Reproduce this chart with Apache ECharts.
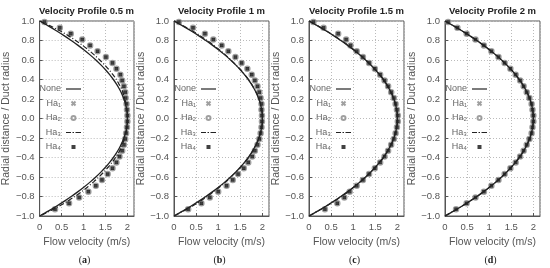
<!DOCTYPE html>
<html>
<head>
<meta charset="utf-8">
<script src="https://cdn.jsdelivr.net/npm/echarts@6/dist/echarts.min.js"></script>
<style>
  html, body { margin: 0; padding: 0; background: #fff; }
  #chart { width: 550px; height: 268px; }
</style>
</head>
<body>
<div id="chart"></div>
<script>
// panel titles and tags
const panelTitles = ['Velocity Profile 0.5 m', 'Velocity Profile 1 m', 'Velocity Profile 1.5 m', 'Velocity Profile 2 m'];
const panelTags = ['a', 'b', 'c', 'd'];
const seriesNames = ['None', 'Ha₁', 'Ha₂', 'Ha₃', 'Ha₄'];
const xTicks = [0, 0.5, 1, 1.5, 2];

// radial positions for the continuous curves
const lineR = [1.0, 0.95, 0.9, 0.85, 0.8, 0.75, 0.7, 0.65, 0.6, 0.55, 0.5, 0.45, 0.4, 0.35, 0.3, 0.25, 0.2, 0.15, 0.1, 0.05, 0,
  -0.05, -0.1, -0.15, -0.2, -0.25, -0.3, -0.35, -0.4, -0.45, -0.5, -0.55, -0.6, -0.65, -0.7, -0.75, -0.8, -0.85, -0.9, -0.95, -1.0];

// "None" curve (same in every panel)
const noneVel = [0, 0.195, 0.38, 0.555, 0.72, 0.875, 1.02, 1.155, 1.28, 1.395, 1.5, 1.595, 1.68, 1.755, 1.82, 1.875, 1.92, 1.955, 1.98, 1.995, 2.0,
  1.995, 1.98, 1.955, 1.92, 1.875, 1.82, 1.755, 1.68, 1.595, 1.5, 1.395, 1.28, 1.155, 1.02, 0.875, 0.72, 0.555, 0.38, 0.195, 0];

// Ha3 dash-dot curve per panel
const ha3A = [0, 0.24, 0.46, 0.65, 0.82, 0.98, 1.12, 1.25, 1.37, 1.48, 1.58, 1.67, 1.75, 1.81, 1.87, 1.91, 1.94, 1.97, 1.99, 2.0, 2.0,
  2.0, 1.99, 1.97, 1.94, 1.90, 1.86, 1.80, 1.73, 1.65, 1.56, 1.46, 1.35, 1.23, 1.10, 0.96, 0.80, 0.63, 0.44, 0.23, 0];
const ha3B = [0, 0.21, 0.41, 0.59, 0.75, 0.90, 1.04, 1.17, 1.29, 1.40, 1.51, 1.60, 1.69, 1.76, 1.82, 1.88, 1.92, 1.96, 1.98, 2.0, 2.0,
  2.0, 1.98, 1.96, 1.92, 1.88, 1.82, 1.76, 1.69, 1.60, 1.51, 1.40, 1.29, 1.17, 1.04, 0.90, 0.75, 0.59, 0.41, 0.21, 0];
const ha3C = [0, 0.20, 0.39, 0.57, 0.73, 0.89, 1.03, 1.16, 1.29, 1.40, 1.51, 1.60, 1.69, 1.76, 1.82, 1.88, 1.92, 1.96, 1.98, 2.0, 2.0,
  2.0, 1.98, 1.96, 1.92, 1.88, 1.82, 1.76, 1.69, 1.60, 1.51, 1.40, 1.29, 1.16, 1.03, 0.89, 0.73, 0.57, 0.39, 0.20, 0];
const ha3D = [0, 0.195, 0.38, 0.555, 0.72, 0.875, 1.02, 1.155, 1.28, 1.395, 1.5, 1.595, 1.68, 1.755, 1.82, 1.875, 1.92, 1.955, 1.98, 1.995, 2.0,
  1.995, 1.98, 1.955, 1.92, 1.875, 1.82, 1.755, 1.68, 1.595, 1.5, 1.395, 1.28, 1.155, 1.02, 0.875, 0.72, 0.555, 0.38, 0.195, 0];

// radial positions of the markers
const markerR = [0.99, 0.93, 0.87, 0.81, 0.75, 0.69, 0.63, 0.57, 0.51, 0.45, 0.39, 0.33, 0.27, 0.21, 0.15, 0.09, 0.03,
  -0.03, -0.09, -0.15, -0.21, -0.27, -0.33, -0.39, -0.45, -0.51, -0.57, -0.63, -0.69, -0.75, -0.81, -0.87, -0.93];

// Ha1 / Ha2 / Ha4 markers (they sit on top of each other)
const haA = [0.11, 0.46, 0.71, 0.97, 1.15, 1.32, 1.51, 1.66, 1.75, 1.84, 1.88, 1.92, 1.95, 1.96, 1.98, 1.99, 2.00,
  2.00, 1.99, 1.97, 1.95, 1.92, 1.88, 1.82, 1.75, 1.66, 1.55, 1.42, 1.28, 1.11, 0.90, 0.67, 0.35];
const haB = [0.11, 0.43, 0.70, 0.89, 1.08, 1.23, 1.39, 1.53, 1.66, 1.76, 1.83, 1.89, 1.93, 1.96, 1.98, 1.98, 1.99,
  1.99, 1.98, 1.96, 1.93, 1.89, 1.83, 1.77, 1.68, 1.58, 1.45, 1.33, 1.19, 1.00, 0.81, 0.62, 0.32];
const haC = [0.10, 0.33, 0.66, 0.84, 0.94, 1.08, 1.22, 1.36, 1.49, 1.61, 1.71, 1.79, 1.86, 1.92, 1.96, 1.99, 2.01,
  2.01, 1.99, 1.96, 1.92, 1.86, 1.79, 1.71, 1.61, 1.49, 1.36, 1.22, 1.08, 0.92, 0.80, 0.64, 0.36];
const haD = [0.07, 0.28, 0.49, 0.69, 0.88, 1.05, 1.21, 1.35, 1.48, 1.60, 1.70, 1.78, 1.85, 1.91, 1.96, 1.98, 2.00,
  2.00, 1.98, 1.96, 1.91, 1.85, 1.78, 1.70, 1.60, 1.48, 1.35, 1.21, 1.05, 0.88, 0.69, 0.49, 0.25];

const ha3Sets = [ha3A, ha3B, ha3C, ha3D];
const haSets = [haA, haB, haC, haD];

const plotLefts = [39, 174, 309, 445];
const plotTop = 21, plotW = 95, plotH = 195;
const FONT = 'Liberation Sans';

// legend glyphs (solid line, dash-dot line, square)
const solidIcon = 'path://M0,0H30V2.4H0Z';
const dashDotIcon = 'path://M0,0H10V2.4H0Z M13,0H16V2.4H13Z M19,0H30V2.4H19Z';
const squareIcon = 'path://M0,0H10V10H0Z';

const pairs = (xs, ys) => xs.map((v, i) => [v, ys[i]]);

const grids = [], xAxes = [], yAxes = [], legends = [], series = [], graphics = [];

plotLefts.forEach((left, i) => {
  grids.push({ left: left, top: plotTop, width: plotW, height: plotH, show: true, borderColor: '#555', borderWidth: 1 });

  xAxes.push({
    gridIndex: i, type: 'value', min: 0, max: 2.15, interval: 0.5,
    name: 'Flow velocity (m/s)', nameLocation: 'middle', nameGap: 21,
    nameTextStyle: { fontFamily: FONT, fontSize: 10.5, color: '#555' },
    axisLine: { show: true, onZero: false, lineStyle: { color: '#555' } },
    axisTick: { show: true, inside: true, length: 3, lineStyle: { color: '#555' } },
    axisLabel: { fontFamily: FONT, fontSize: 9.5, color: '#555', margin: 6, showMaxLabel: false,
      formatter: v => xTicks.indexOf(v) >= 0 ? String(v) : '' },
    splitLine: { show: true, lineStyle: { type: [1, 2], color: '#bbb' } }
  });

  yAxes.push({
    gridIndex: i, type: 'value', min: -1, max: 1, interval: 0.2,
    name: 'Radial distance / Duct radius', nameLocation: 'middle', nameGap: 17,
    nameTextStyle: { fontFamily: FONT, fontSize: 10.5, color: '#555' },
    axisLine: { show: true, onZero: false, lineStyle: { color: '#555' } },
    axisTick: { show: true, inside: true, length: 3, lineStyle: { color: '#555' } },
    axisLabel: { fontFamily: FONT, fontSize: 9.5, color: '#555', margin: 5,
      formatter: v => { const r = Math.round(v * 10) / 10; return (r < 0 ? '−' : '') + Math.abs(r).toFixed(1); } },
    splitLine: { show: true, lineStyle: { type: [1, 2], color: '#bbb' } }
  });

  legends.push({
    orient: 'vertical', align: 'right', padding: 0,
    right: 550 - (left + 42), top: 83,
    itemWidth: 15, itemHeight: 4, itemGap: 2.5,
    selectedMode: false,
    textStyle: { fontFamily: FONT, fontSize: 9, color: '#666', lineHeight: 12 },
    data: [
      { name: 'None', icon: solidIcon },
      { name: 'Ha₁' },
      { name: 'Ha₂' },
      { name: 'Ha₃', icon: dashDotIcon },
      { name: 'Ha₄', icon: squareIcon }
    ]
  });

  const ax = { xAxisIndex: i, yAxisIndex: i };
  series.push(Object.assign({
    name: 'None', type: 'line', data: pairs(noneVel, lineR), symbol: 'none', smooth: 0.3,
    lineStyle: { color: '#222', width: 1.3 }, itemStyle: { color: '#222' }
  }, ax));
  series.push(Object.assign({
    name: 'Ha₁', type: 'scatter', data: pairs(haSets[i], markerR),
    symbol: 'path://M0,0L10,10M10,0L0,10', symbolSize: 3,
    itemStyle: { color: '#888', borderColor: '#888', borderWidth: 1 }
  }, ax));
  series.push(Object.assign({
    name: 'Ha₂', type: 'scatter', data: pairs(haSets[i], markerR),
    symbol: 'emptyCircle', symbolSize: 4.5,
    itemStyle: { color: '#888', borderWidth: 1 }
  }, ax));
  series.push(Object.assign({
    name: 'Ha₃', type: 'line', data: pairs(ha3Sets[i], lineR), symbol: 'none', smooth: 0.3,
    lineStyle: { color: '#222', width: 1.2, type: [5, 2, 1, 2] }, itemStyle: { color: '#222' }
  }, ax));
  series.push(Object.assign({
    name: 'Ha₄', type: 'scatter', data: pairs(haSets[i], markerR),
    symbol: 'rect', symbolSize: 3.5,
    itemStyle: { color: '#111' }
  }, ax));

  graphics.push({
    type: 'text', x: left + plotW / 2, y: 11,
    style: { text: panelTitles[i], align: 'center', verticalAlign: 'middle',
      font: 'bold 9.5px "Liberation Sans"', fill: '#222' }
  });
  graphics.push({
    type: 'text', x: left + plotW / 2 - 2, y: 260,
    style: { text: '({b|' + panelTags[i] + '})', align: 'center', verticalAlign: 'middle',
      font: '10px "Liberation Serif"', fill: '#222',
      rich: { b: { fontWeight: 'bold', fontFamily: 'Liberation Serif', fontSize: 10 } } }
  });
});

const chart = echarts.init(document.getElementById('chart'));
chart.setOption({
  animation: false,
  backgroundColor: '#fff',
  grid: grids,
  xAxis: xAxes,
  yAxis: yAxes,
  legend: legends,
  series: series,
  graphic: graphics
});
</script>
</body>
</html>
